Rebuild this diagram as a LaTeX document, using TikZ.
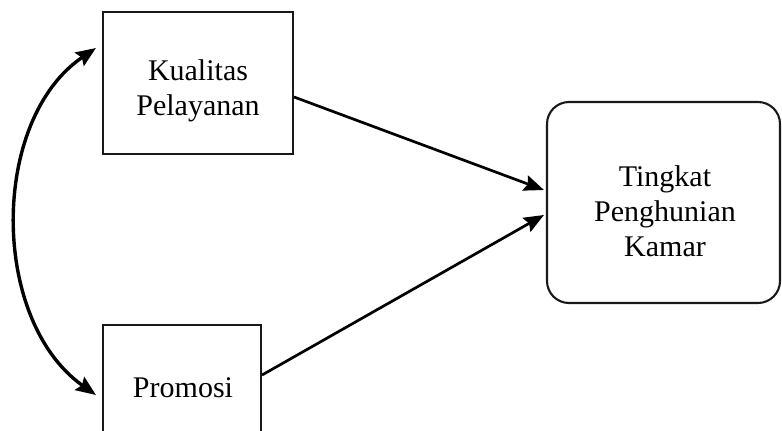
\documentclass[tikz,border=0pt]{standalone}
\usepackage{fontspec}
\setmainfont{Liberation Serif}
\usetikzlibrary{arrows.meta,calc}
\begin{document}
\begin{tikzpicture}[x=1pt,y=-1pt,
  varbox/.style={draw=black!90,line width=2.1pt,inner sep=0pt},
  lbl/.style={align=center,inner sep=0pt,font=\fontsize{30}{35}\selectfont},
  arr/.style={line width=2.7pt,-{Stealth[length=20pt,width=16pt,inset=3pt]}},
  dbl/.style={line width=3.4pt,{Stealth[length=20pt,width=16pt,inset=3pt]}-{Stealth[length=20pt,width=16pt,inset=3pt]}}]
\useasboundingbox (0,0) rectangle (782,431);
\node[varbox,minimum width=190pt,minimum height=142pt] (k) at (198,83) {};
\node[lbl] (kt) at (198,91) {Kualitas\\Pelayanan};
\node[varbox,minimum width=158pt,minimum height=124pt] (p) at (182,387) {};
\node[lbl] (pt) at (183,388) {Promosi};
\node[varbox,rounded corners=22pt,minimum width=233pt,minimum height=201pt] (t) at (663.5,202.5) {};
\node[lbl] (tt) at (665,211) {Tingkat\\Penghunian\\Kamar};
\draw[arr] ($(k.east)+(0,14)$) -- ($(t.west)+(-2,-12.5)$);
\draw[arr] ($(p.east)+(0,-12)$) -- ($(t.west)+(-2,12.5)$);
\draw[dbl] ($(k.west)+(-6,-35)$) .. controls (-10,120) and (-10,320) .. ($(p.west)+(-6,8)$);
\end{tikzpicture}
\end{document}
